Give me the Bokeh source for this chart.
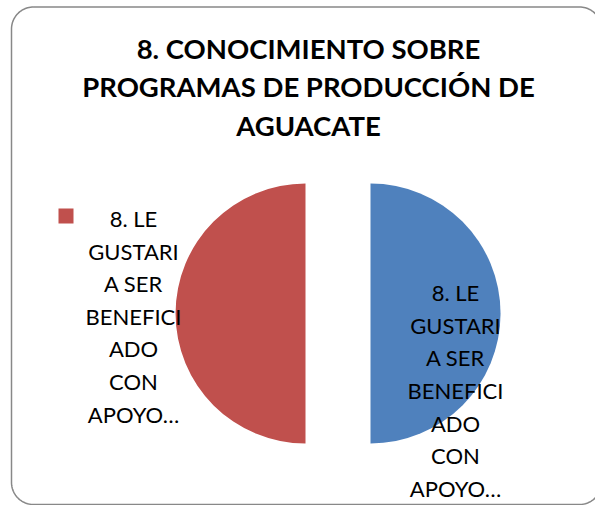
import math
import numpy as np
from bokeh.plotting import figure
from bokeh.models import Range1d
from bokeh.core.properties import value
from bokeh.embed import file_html
from bokeh.resources import INLINE

# ---- data ----
title_lines = ["8. CONOCIMIENTO SOBRE", "PROGRAMAS DE PRODUCCIÓN DE", "AGUACATE"]
categories = ["8. LE GUSTARIA SER BENEFICIADO CON APOYO (a)",
              "8. LE GUSTARIA SER BENEFICIADO CON APOYO (b)"]
values = [50, 50]
colors = ["#4F81BD", "#C0504D"]
label_lines = ["8. LE", "GUSTARI", "A SER", "BENEFICI", "ADO", "CON", "APOYO…"]

W, H = 595, 505
OFF = 0
FONT = "Lato"


def sx(x):
    return x - OFF


def sy(y):
    return H + OFF - y


p = figure(width=W, height=H, x_range=Range1d(0, W), y_range=Range1d(0, H),
           output_backend="svg", toolbar_location=None, min_border=0,
           x_axis_location=None, y_axis_location=None)
p.grid.visible = False
p.outline_line_color = None
p.background_fill_color = "white"
p.border_fill_color = "white"

# ---- rounded frame ----
fx0, fx1, fy0, fy1, rr = sx(11), sx(601), sy(6.5), sy(504), 22
xs, ys = [], []
def arc(cx, cy, a0, a1):
    t = np.linspace(a0, a1, 24)
    xs.extend(cx + rr * np.cos(t)); ys.extend(cy + rr * np.sin(t))
arc(fx0 + rr, fy0 - rr, math.pi / 2, math.pi)
arc(fx0 + rr, fy1 + rr, math.pi, 1.5 * math.pi)
arc(fx1 - rr, fy1 + rr, 1.5 * math.pi, 2 * math.pi)
arc(fx1 - rr, fy0 - rr, 0, math.pi / 2)
xs.append(xs[0]); ys.append(ys[0])
p.line(xs, ys, line_color="#888888", line_width=1.5)

# ---- title ----
title_y = [48, 86, 125]
p.text(x=[sx(308)] * 3, y=[sy(v) for v in title_y], text=title_lines,
       text_font=value(FONT), text_font_style="bold", text_font_size="27.5px",
       text_align="center", text_baseline="middle", text_color="black")

# ---- pie ----
cx, cy, R, explode = sx(337.5), sy(313), 130, 32.5
total = sum(values)
cum = 0
centers = []
for v, c in zip(values, colors):
    a0 = math.pi / 2 - 2 * math.pi * cum / total
    a1 = math.pi / 2 - 2 * math.pi * (cum + v) / total
    mid = (a0 + a1) / 2
    ox, oy = cx + explode * math.cos(mid), cy + explode * math.sin(mid)
    centers.append((ox, oy))
    p.wedge(x=[ox], y=[oy], radius=R, start_angle=[a0], end_angle=[a1],
            direction="clock", fill_color=c, line_color=None)
    cum += v

# ---- data label on first slice ----
lx, ly = centers[0][0] + 85, centers[0][1] - 77
step = 32.6
n = len(label_lines)
p.text(x=[lx] * n, y=[ly + (n - 1) / 2 * step - i * step for i in range(n)],
       text=label_lines, text_font=value(FONT), text_font_size="22px",
       text_align="center", text_baseline="middle", text_color="black")

# ---- legend (second category) ----
p.rect(x=[sx(65.5)], y=[sy(215.5)], width=15, height=15,
       fill_color=colors[1], line_color=None)
p.text(x=[sx(133)] * n, y=[sy(218) - i * step for i in range(n)],
       text=label_lines, text_font=value(FONT), text_font_size="22px",
       text_align="center", text_baseline="middle", text_color="black")

open("out.html", "w").write(file_html(p, INLINE))
